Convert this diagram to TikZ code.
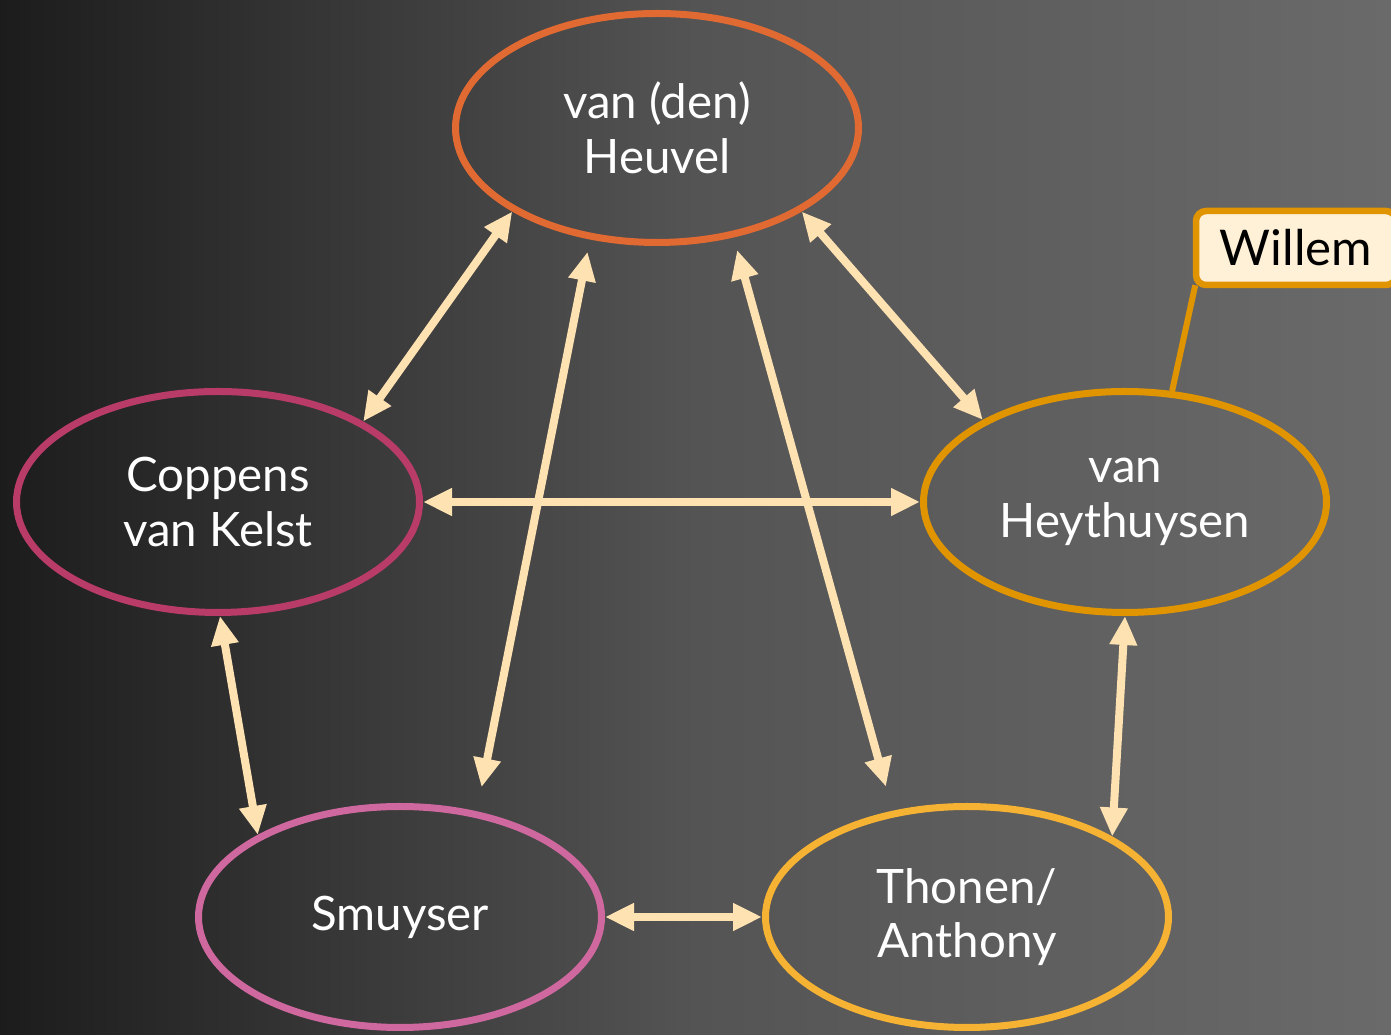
\documentclass[tikz,border=0pt]{standalone}
\usepackage{fontspec}
\setmainfont{Lato}
\usetikzlibrary{arrows.meta,shapes.geometric}

\definecolor{bgdark}{HTML}{1C1C1C}
\definecolor{bgmid}{HTML}{545454}
\definecolor{bglight}{HTML}{6A6A6A}
\definecolor{arrowpeach}{HTML}{FFE2B2}
\definecolor{heuvelorange}{HTML}{E06A32}
\definecolor{coppensred}{HTML}{B83B68}
\definecolor{heythgold}{HTML}{E09400}
\definecolor{smuyserpink}{HTML}{D068A0}
\definecolor{thonenyellow}{HTML}{F6B232}
\definecolor{willemfill}{HTML}{FFF0D8}

\begin{document}
\begin{tikzpicture}
    [% Family names
    family/.style={ellipse, line width=0.14cm, inner sep=0pt, minimum width=8.06cm, minimum height=4.42cm, align=center, text=white, font=\fontsize{27}{31}\selectfont},
    % Callout for a first name
    callout/.style={rectangle, draw=heythgold, fill=willemfill, line width=0.13cm, rounded corners=0.2cm, minimum width=4cm, minimum height=1.48cm, inner sep=0pt, text=black, font=\fontsize{28}{32}\selectfont},
    % Links between the families
    link/.style={draw=arrowpeach, line width=0.16cm, {Triangle[length=0.58cm 0,width=0.52cm 0]}-{Triangle[length=0.58cm 0,width=0.52cm 0]}}]
    % Background
    \shade[left color=bgdark, right color=bglight, middle color=bgmid] (0,0) rectangle (27.82,20.70);
    \useasboundingbox (0,0) rectangle (27.82,20.70);
    % Families
    \node [family, draw=heuvelorange, minimum height=4.58cm] (heuvel)  at (13.14,18.14) {van (den)\\Heuvel};
    \node [family, draw=coppensred]   (coppens) at (4.36,10.66)  {Coppens\\van Kelst};
    \node [family, draw=heythgold]    (heyth)   at (22.50,10.66) {van\\Heythuysen};
    \node [family, draw=smuyserpink]  (smuyser) at (8.00,2.36)   {Smuyser};
    \node [family, draw=thonenyellow] (thonen)  at (19.34,2.36)  {Thonen/\\Anthony};
    % First name
    \node [callout] (willem) at (25.92,15.74) {Willem};
    \draw [heythgold, line width=0.12cm] ([shift={(0.05cm,0.06cm)}]willem.south west) -- (heyth.67.6);
    % Links
    \draw [link] (heuvel.210.4) -- (coppens.29.6);
    \draw [link, shorten <=0.25cm, shorten >=0.49cm] (heuvel.239.6) -- (smuyser.54.4);
    \draw [link, shorten <=0.26cm, shorten >=0.5cm] (heuvel.305.9) -- (thonen.125.3);
    \draw [link] (heuvel.330.4) -- (heyth.150.3);
    \draw [link] (coppens.east) -- (heyth.west);
    \draw [link] (coppens.271) -- (smuyser.150.3);
    \draw [link] (heyth.270) -- (thonen.29.8);
    \draw [link] (smuyser.east) -- (thonen.west);
\end{tikzpicture}
\end{document}
